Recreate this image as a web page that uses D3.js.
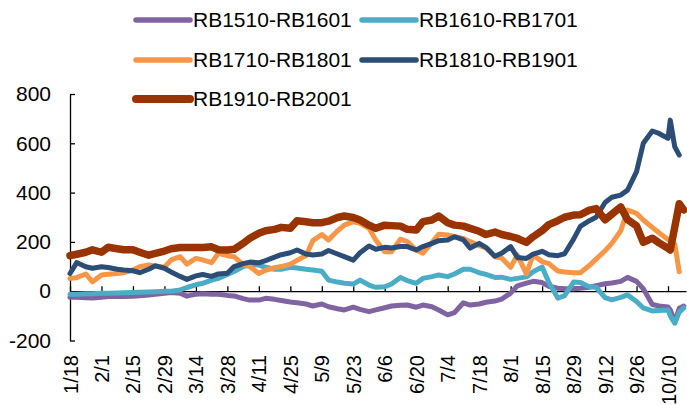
<!DOCTYPE html>
<html>
<head>
<meta charset="utf-8">
<script src="https://cdn.jsdelivr.net/npm/d3@7"></script>
<style>
  html, body { margin: 0; padding: 0; background: #fff; }
  svg { display: block; font-family: "Liberation Sans", Arial, sans-serif; }
</style>
</head>
<body>
<svg id="chart" width="687" height="405"></svg>
<script>
// ---------- data ----------
const categories = [
  "1/18","1/21","1/25","1/28",
  "2/1","2/4","2/8","2/11",
  "2/15","2/18","2/22","2/25",
  "2/29","3/3","3/7","3/10",
  "3/14","3/17","3/21","3/24",
  "3/28","3/31","4/4","4/7",
  "4/11","4/14","4/18","4/21",
  "4/25","4/28","5/2","5/5",
  "5/9","5/12","5/16","5/19",
  "5/23","5/26","5/30","6/2",
  "6/6","6/9","6/13","6/16",
  "6/20","6/23","6/27","6/30",
  "7/4","7/7","7/11","7/14",
  "7/18","7/21","7/25","7/28",
  "8/1","8/4","8/8","8/11",
  "8/15","8/18","8/22","8/25",
  "8/29","9/1","9/5","9/8",
  "9/12","9/15","9/19","9/22",
  "9/26","9/29","10/3","10/6",
  "10/10","10/11","10/13","10/15","10/17"
];

const rb1510_1601 = [
  -25,-25,-27,-28, -25,-22,-22,-22, -20,-18,-15,-12, -8,-5,-8,-20,
  -12,-10,-12,-12, -17,-19,-30,-36, -36,-29,-33,-38, -44,-47,-52,-60,
  -52,-63,-71,-76, -65,-74,-83,-76, -67,-60,-57,-56, -65,-56,-63,-76,
  -96,-87,-47,-56, -52,-45,-40,-32, -8,22,33,40, 35,20,12,10,
  10,12,16,22, 30,33,40,56, 40,10,-54,-60, -64,-76,-124,-69,-60
];
const rb1610_1701 = [
  -12,-12,-10,-10, -8,-8,-7,-6, -5,-4,-3,-2, 0,0,5,15,
  26,32,45,52, 68,80,100,108, 106,97,89,89, 97,94,89,86,
  81,45,37,32, 29,45,25,16, 18,29,56,43, 32,52,59,66,
  59,70,89,89, 75,68,56,57, 48,52,58,79, 98,35,-28,-18,
  37,35,18,16, -26,-35,-25,-15, -42,-68,-80,-78, -76,-100,-130,-85,-68
];
const rb1710_1801 = [
  52,55,70,38, 66,69,72,75, 86,99,106,102, 97,127,140,110,
  133,127,116,154, 144,140,108,100, 72,85,95,100, 110,125,145,205,
  230,208,245,268, 282,275,255,208, 160,160,211,201, 167,154,197,231,
  228,221,214,201, 185,176,140,135, 97,147,70,147, 120,112,82,78,
  75,75,104,130, 164,194,245,329, 316,289,259,237, 210,205,191,79,null
];
const rb1810_1901 = [
  72,116,99,93, 99,96,89,86, 83,75,89,103, 93,78,60,48,
  62,68,60,70, 73,100,112,118, 115,124,138,148, 156,167,151,147,
  151,165,151,140, 126,156,183,170, 178,175,181,181, 167,181,194,205,
  208,221,208,175, 194,178,142,154, 181,137,133,150, 162,148,144,152,
  211,263,286,300, 360,381,390,410, 485,600,650,640, 620,694,586,552,null
];
const rb1910_2001 = [
  144,150,158,168, 158,178,172,168, 168,158,146,153, 163,172,177,177,
  177,177,180,168, 167,170,194,215, 235,245,251,259, 255,286,282,278,
  278,284,299,305, 299,289,268,255, 268,266,264,251, 248,282,289,305,
  278,268,264,255, 243,230,240,230, 222,214,198,221, 246,270,286,300,
  309,310,329,335, 290,312,342,290, 265,198,215,196, 174,167,260,355,330
];

const seriesNames = ["RB1510-RB1601","RB1610-RB1701","RB1710-RB1801","RB1810-RB1901","RB1910-RB2001"];
const seriesValues = [rb1510_1601, rb1610_1701, rb1710_1801, rb1810_1901, rb1910_2001];
const seriesColors = ["#8064A2","#4BACC6","#F79646","#2C4D75","#993300"];
const seriesWidths = [5, 5, 5, 5, 7.5];

const xTickLabels = ["1/18","2/1","2/15","2/29","3/14","3/28","4/11","4/25","5/9","5/23",
                     "6/6","6/20","7/4","7/18","8/1","8/15","8/29","9/12","9/26","10/10"];
const yTicks = [-200, 0, 200, 400, 600, 800];

// ---------- chart ----------
const parse = d3.timeParse("%Y/%m/%d");
const toDate = s => parse("2016/" + s);
const dates = categories.map(toDate);

const svg = d3.select("#chart");
const x = d3.scaleTime().domain([toDate("1/18"), toDate("10/18")]).range([70, 686]);
const y = d3.scaleLinear().domain([-200, 800]).range([340.5, 94]);

// y axis
const yAxis = svg.append("g")
  .attr("transform", "translate(70,0)")
  .call(d3.axisLeft(y).tickValues(yTicks).tickSize(-5).tickSizeOuter(0)
        .tickPadding(19).tickFormat(d => String(d)));
yAxis.selectAll("path, line").attr("stroke", "#000").attr("stroke-width", 1.3);
yAxis.selectAll("text").attr("font-size", 21).attr("fill", "#000")
  .attr("font-family", "'Liberation Sans', Arial, sans-serif");

// x axis line at zero with upward ticks
const xTickDates = xTickLabels.map(toDate);
const xAxis = svg.append("g")
  .attr("transform", `translate(0,${y(0)})`)
  .call(d3.axisBottom(x).tickValues(xTickDates).tickSize(-5).tickSizeOuter(0).tickFormat(""));
xAxis.selectAll("path, line").attr("stroke", "#000").attr("stroke-width", 1.3);

// x labels at bottom
const xLab = svg.append("g")
  .attr("transform", "translate(0,355)")
  .call(d3.axisBottom(x).tickValues(xTickDates).tickSize(0)
        .tickFormat((d, i) => xTickLabels[i]));
xLab.select(".domain").remove();
xLab.selectAll("text")
  .attr("x", 0).attr("y", 0).attr("dy", "0.35em")
  .attr("transform", "rotate(-90)")
  .style("text-anchor", "end")
  .attr("font-size", 20).attr("fill", "#000")
  .attr("font-family", "'Liberation Sans', Arial, sans-serif");

// lines
const line = d3.line()
  .defined(d => d.v !== null)
  .x(d => x(d.date))
  .y(d => y(d.v));

seriesValues.forEach((vals, i) => {
  const pts = vals.map((v, j) => ({ date: dates[j], v: v }));
  svg.append("path")
    .datum(pts)
    .attr("fill", "none")
    .attr("stroke", seriesColors[i])
    .attr("stroke-width", seriesWidths[i])
    .attr("stroke-linejoin", "round")
    .attr("stroke-linecap", "round")
    .attr("d", line);
});

// legend
const legCols = [134, 360];
const legRows = [20, 60, 99];
seriesNames.forEach((name, i) => {
  const cx = legCols[i % 2];
  const cy = legRows[Math.floor(i / 2)];
  const g = svg.append("g").attr("transform", `translate(${cx},${cy})`);
  g.append("line")
    .attr("x1", 2).attr("x2", 56).attr("y1", 0).attr("y2", 0)
    .attr("stroke", seriesColors[i])
    .attr("stroke-width", seriesWidths[i] + 0.5)
    .attr("stroke-linecap", "round");
  g.append("text")
    .attr("x", 59).attr("y", 0).attr("dy", "0.35em")
    .attr("font-size", 21).attr("fill", "#000")
    .text(name);
});
</script>
</body>
</html>
